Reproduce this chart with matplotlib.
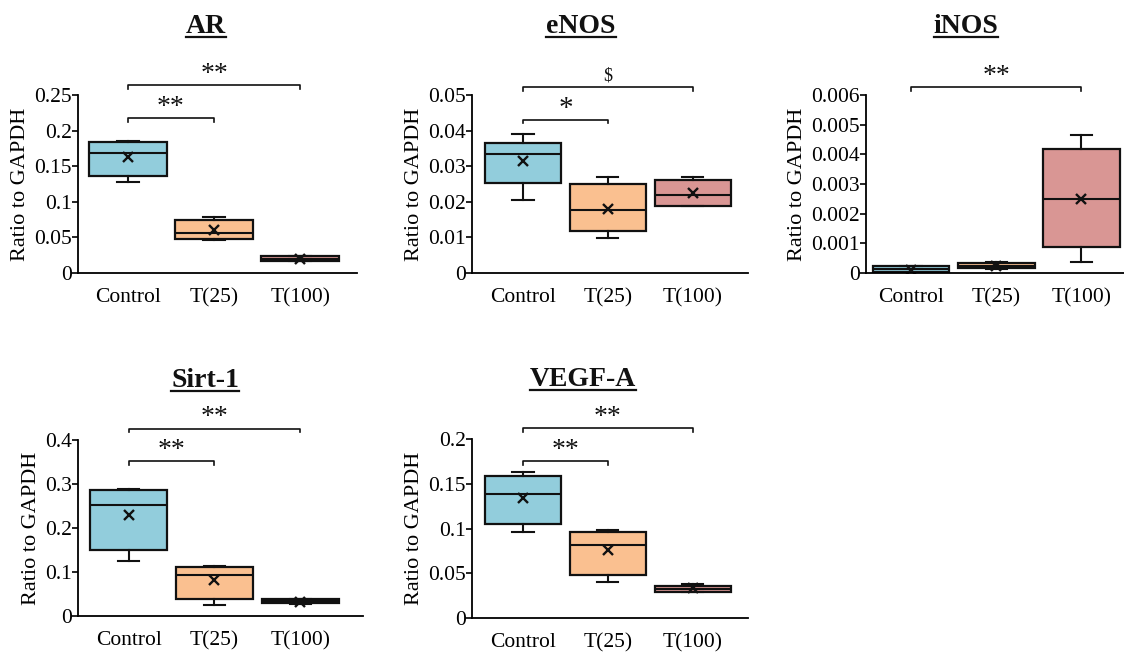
import matplotlib
matplotlib.use("Agg")
import matplotlib.pyplot as plt
from matplotlib.lines import Line2D

plt.rcParams['font.family'] = ['Liberation Serif', 'DejaVu Serif']

groups = ["Control", "T(25)", "T(100)"]
colors = ["#92CDDC", "#FAC090", "#D99694"]

# per group: whisker low, q1, median, q3, whisker high, mean
ar_stats = [
    [0.1276, 0.1364, 0.169, 0.1836, 0.1855, 0.1636],
    [0.0467, 0.048, 0.056, 0.0738, 0.0785, 0.0598],
    [0.0164, 0.0168, 0.020, 0.0232, 0.0235, 0.020],
]
enos_stats = [
    [0.0206, 0.0254, 0.0334, 0.0364, 0.039, 0.0315],
    [0.0098, 0.0119, 0.0176, 0.0250, 0.0271, 0.018],
    [0.0187, 0.0189, 0.0218, 0.0262, 0.0269, 0.0224],
]
inos_stats = [
    [0.00001, 0.00003, 0.00012, 0.00022, 0.00025, 0.00011],
    [0.000135, 0.000157, 0.00025, 0.000336, 0.00038, 0.00025],
    [0.00036, 0.00086, 0.00251, 0.00417, 0.00465, 0.00251],
]
sirt_stats = [
    [0.1245, 0.1495, 0.252, 0.2854, 0.2884, 0.229],
    [0.0258, 0.0395, 0.094, 0.1116, 0.1139, 0.081],
    [0.028, 0.029, 0.0334, 0.038, 0.0395, 0.032],
]
vegf_stats = [
    [0.0961, 0.1054, 0.1385, 0.1583, 0.1628, 0.134],
    [0.0399, 0.0484, 0.082, 0.0961, 0.098, 0.0756],
    [0.0287, 0.0287, 0.0324, 0.0361, 0.0384, 0.0335],
]

ar_ticks = [0, 0.05, 0.1, 0.15, 0.2, 0.25]
enos_ticks = [0, 0.01, 0.02, 0.03, 0.04, 0.05]
inos_ticks = [0, 0.001, 0.002, 0.003, 0.004, 0.005, 0.006]
sirt_ticks = [0, 0.1, 0.2, 0.3, 0.4]
vegf_ticks = [0, 0.05, 0.1, 0.15, 0.2]

W, H = 1124, 652
fig = plt.figure(figsize=(W / 100, H / 100), dpi=100)


def px_axes(l, r, top, bottom):
    return fig.add_axes([l / W, 1 - bottom / H, (r - l) / W, (bottom - top) / H])


def draw_panel(ax, stats, ticks, xlim, brackets):
    bstats = []
    for s in stats:
        bstats.append(dict(whislo=s[0], q1=s[1], med=s[2], q3=s[3], whishi=s[4],
                           mean=s[5], fliers=[]))
    b = ax.bxp(bstats, positions=[0, 1, 2], widths=0.9, patch_artist=True,
               showmeans=True, capwidths=0.25,
               boxprops=dict(linewidth=1.6, edgecolor="#111111"),
               medianprops=dict(color="#111111", linewidth=1.5),
               whiskerprops=dict(color="#111111", linewidth=1.5),
               capprops=dict(color="#111111", linewidth=1.5),
               meanprops=dict(marker="x", markeredgecolor="#111111",
                              markersize=6.5, markeredgewidth=1.7))
    for patch, c in zip(b["boxes"], colors):
        patch.set_facecolor(c)
    ax.set_xlim(*xlim)
    ax.set_ylim(0, ticks[-1])
    ax.set_yticks(ticks)
    ax.set_yticklabels(["%g" % t for t in ticks])
    ax.set_xticks([0, 1, 2])
    ax.set_xticklabels(groups)
    ax.tick_params(axis="x", length=0, labelsize=15.5, pad=11)
    ax.tick_params(axis="y", length=4, width=1.2, labelsize=15.5, pad=0.5)
    for side in ["top", "right"]:
        ax.spines[side].set_visible(False)
    for side in ["left", "bottom"]:
        ax.spines[side].set_linewidth(1.3)
    ax.set_ylabel("Ratio to GAPDH", fontsize=16, labelpad=3)
    tr = ax.get_xaxis_transform()
    for x2, yb, label, fs in brackets:
        ax.add_line(Line2D([0, 0, x2, x2], [yb - 0.02, yb, yb, yb - 0.02],
                           transform=tr, color="#111111", linewidth=1.2,
                           clip_on=False))
        ax.text(x2 / 2, yb + 0.06, label, transform=tr, ha="center",
                va="center", fontsize=fs, color="#111111")


def title(x, y, s):
    t = fig.text(x / W, 1 - y / H, s, ha="center", va="baseline",
                 fontsize=20, fontweight="bold", color="#111111")
    return t


ax1 = px_axes(78, 357, 95, 273)
draw_panel(ax1, ar_stats, ar_ticks, (-0.58, 2.66),
           [(2, 1.055, "**", 20), (1, 0.87, "**", 20)])
ax2 = px_axes(472, 748, 95, 273)
draw_panel(ax2, enos_stats, enos_ticks, (-0.6, 2.65),
           [(2, 1.045, "$", 13), (1, 0.86, "*", 21)])
ax3 = px_axes(866, 1124, 95, 273)
draw_panel(ax3, inos_stats, inos_ticks, (-0.53, 2.5),
           [(2, 1.045, "**", 20)])
ax4 = px_axes(78, 363, 440, 616)
draw_panel(ax4, sirt_stats, sirt_ticks, (-0.59, 2.73),
           [(2, 1.065, "**", 20), (1, 0.88, "**", 20)])
ax5 = px_axes(472, 748, 439, 618)
draw_panel(ax5, vegf_stats, vegf_ticks, (-0.6, 2.65),
           [(2, 1.06, "**", 20), (1, 0.877, "**", 20)])

titles = [
    title(206, 33, "AR"),
    title(581, 33, "eNOS"),
    title(966, 33, "iNOS"),
    title(205, 387, "Sirt-1"),
    title(583, 386, "VEGF-A"),
]

# underline the titles
fig.canvas.draw()
renderer = fig.canvas.get_renderer()
for t in titles:
    bb = t.get_window_extent(renderer)
    ybase = t.get_position()[1] - 3.5 / H
    fig.add_artist(Line2D([bb.x0 / W, bb.x1 / W], [ybase, ybase],
                          transform=fig.transFigure, color="#111111",
                          linewidth=1.6))

fig.savefig("out.png", dpi=100)
